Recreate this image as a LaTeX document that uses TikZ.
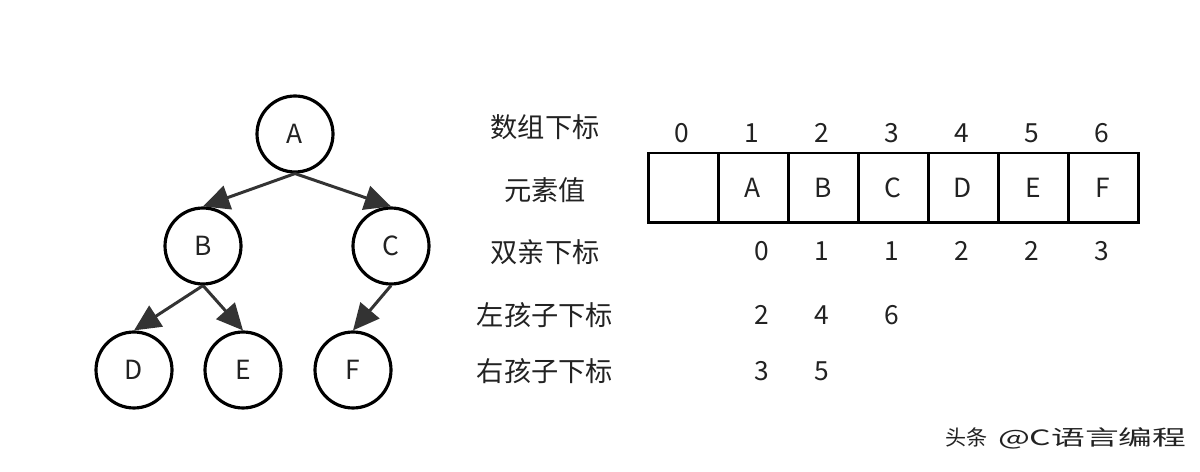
\documentclass[tikz,border=0pt]{standalone}
\usepackage{fontspec}
\setmainfont{Noto Sans CJK SC}
\usepackage{tikz}
\usetikzlibrary{positioning,arrows.meta}
\definecolor{inkgray}{HTML}{222222}
\definecolor{edgegray}{HTML}{333333}
\newcommand*{\cellW}{70}
\newcommand*{\boxL}{648}
\newcommand*{\boxY}{188}
\newcommand*{\labelX}{545}

\begin{document}
\begin{tikzpicture}[x=0.02cm, y=-0.02cm,
    treenode/.style={circle, draw=black, line width=1.8pt, minimum size=1.52cm,
        inner sep=0pt, text=inkgray, font=\fontsize{15}{15}\selectfont},
    treeedge/.style={draw=edgegray, line width=1.7pt,
        -{Triangle[length=15pt, width=14pt]}},
    arraycell/.style={rectangle, draw=black, line width=1.7pt, minimum width=1.4cm,
        minimum height=1.4cm, inner sep=0pt, text=inkgray, font=\fontsize{15}{15}\selectfont},
    numlabel/.style={text=inkgray, inner sep=0pt, font=\fontsize{15}{15}\selectfont},
    rowlabel/.style={text=inkgray, inner sep=0pt, font=\fontsize{15.5}{15.5}\selectfont},
    watermark/.style={text=inkgray, inner sep=0pt, font=\fontsize{12}{12}\selectfont}]
    \useasboundingbox (0,0) rectangle (1200,472);

    % tree
    \node [treenode] (A) at (295,134) {A};
    \node [treenode] (B) at (203,246) {B};
    \node [treenode] (C) at (391,246) {C};
    \node [treenode] (D) at (134,370) {D};
    \node [treenode] (E) at (243,370) {E};
    \node [treenode] (F) at (353,370) {F};
    \foreach \p/\c in {A/B,A/C,B/D,B/E,C/F} {
        \draw [treeedge] (\p.south) -- (\c.north);
    }

    % array and its indices
    \foreach \i/\v in {0/{},1/A,2/B,3/C,4/D,5/E,6/F} {
        \node [arraycell] (cell\i) at ({\boxL+(\i+0.5)*\cellW},\boxY) {\v};
        \node [numlabel] (idx\i) at ({\boxL+(\i+0.5)*\cellW-1},133) {\i};
    }

    % row labels
    \node [rowlabel] (lblIdx) at (\labelX,127) {数组下标};
    \node [rowlabel] (lblVal) at (\labelX,190) {元素值};
    \node [rowlabel] (lblPar) at (\labelX,252) {双亲下标};
    \node [rowlabel] (lblLeft) at (\labelX,315) {左孩子下标};
    \node [rowlabel] (lblRight) at (\labelX,371) {右孩子下标};

    \foreach \x/\v [count=\k] in {762/0,822/1,892/1,962/2,1032/2,1102/3} {
        \node [numlabel] (par\k) at (\x,251) {\v};
    }
    \foreach \x/\v [count=\k] in {762/2,822/4,892/6} {
        \node [numlabel] (left\k) at (\x,315) {\v};
    }
    \foreach \x/\v [count=\k] in {762/3,822/5} {
        \node [numlabel] (right\k) at (\x,371) {\v};
    }

    \node [watermark, anchor=west] (mark) at (945,438) {头条\hspace{0.5em}\scalebox{1.6}[1]{@C语言编程}};
\end{tikzpicture}
\end{document}
